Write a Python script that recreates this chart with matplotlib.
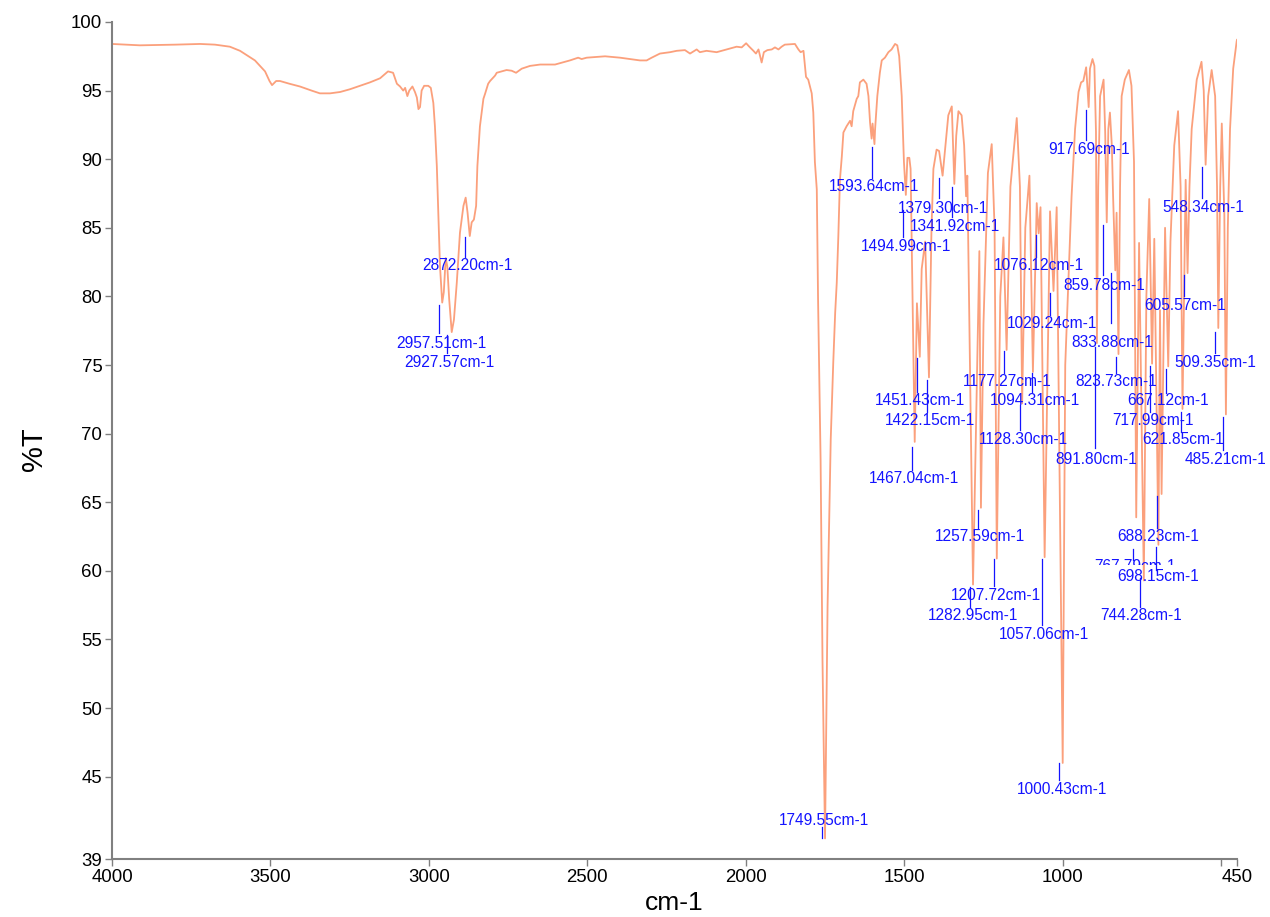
import matplotlib
matplotlib.use("Agg")
import matplotlib.pyplot as plt
from matplotlib.patches import Rectangle

# ---------------- data ----------------
wavenumber = [
    4000, 3912, 3800, 3722, 3675, 3628, 3596, 3549, 3517, 3503, 3495, 3482, 3470, 3440,
    3407, 3370, 3344, 3312, 3280, 3249, 3186, 3154, 3129, 3113, 3101, 3091, 3081, 3075,
    3068, 3062, 3052, 3044, 3038, 3033, 3028, 3023, 3015, 3002, 2994, 2986, 2981, 2975,
    2970, 2965, 2958, 2953, 2947, 2942, 2936, 2928, 2921, 2912, 2902, 2891, 2884, 2878,
    2871, 2865, 2858, 2851, 2847, 2839, 2828, 2823, 2813, 2807, 2791, 2786, 2755, 2739,
    2725, 2707, 2681, 2649, 2602, 2555, 2529, 2518, 2502, 2444, 2397, 2365, 2334, 2313,
    2297, 2271, 2239, 2218, 2192, 2176, 2155, 2145, 2124, 2092, 2060, 2029, 2013, 1999,
    1989, 1976, 1968, 1960, 1950, 1943, 1932, 1918, 1908, 1897, 1887, 1877, 1845, 1834,
    1827, 1818, 1810, 1803, 1792, 1787, 1782, 1776, 1772, 1764, 1758, 1750, 1742, 1732,
    1724, 1718, 1713, 1708, 1703, 1697, 1692, 1682, 1671, 1666, 1661, 1650, 1645, 1640,
    1629, 1619, 1613, 1608, 1603, 1600, 1594, 1592, 1585, 1577, 1571, 1561, 1550, 1540,
    1529, 1522, 1516, 1508, 1501, 1495, 1490, 1484, 1480, 1467, 1460, 1451, 1445, 1434,
    1422, 1414, 1408, 1398, 1390, 1379, 1368, 1361, 1350, 1342, 1336, 1329, 1319, 1311,
    1305, 1301, 1283, 1263, 1258, 1250, 1236, 1224, 1215, 1208, 1197, 1187, 1177, 1165,
    1145, 1135, 1128, 1118, 1105, 1094, 1082, 1076, 1070, 1057, 1040, 1029, 1019, 1000,
    992, 972, 961, 950, 942, 935, 926, 918, 914, 906, 900, 895, 892, 888,
    882, 871, 866, 861, 856, 851, 845, 841, 834, 830, 824, 819, 814, 804,
    791, 783, 775, 768, 759, 744, 736, 727, 718, 711, 698, 693, 688, 677,
    667, 660, 648, 636, 628, 622, 612, 606, 600, 593, 577, 562, 555, 549,
    545, 541, 530, 519, 513, 509, 503, 498, 490, 485, 479, 472, 462, 451,
    450,
]
transmittance = [
    98.4, 98.3, 98.35, 98.4, 98.35, 98.2, 97.9, 97.2, 96.4, 95.7, 95.4, 95.7, 95.7, 95.5,
    95.3, 95.0, 94.8, 94.8, 94.9, 95.1, 95.6, 95.9, 96.4, 96.3, 95.5, 95.3, 95.0, 95.2,
    94.6, 95.0, 95.3, 94.9, 94.5, 93.65, 93.8, 95.0, 95.35, 95.35, 95.2, 94.1, 92.4, 89.5,
    85.9, 82.2, 79.55, 80.3, 82.8, 82.2, 79.8, 77.4, 78.3, 81.0, 84.65, 86.6, 87.2, 86.1,
    84.4, 85.4, 85.6, 86.6, 89.5, 92.4, 94.4, 94.75, 95.5, 95.7, 96.1, 96.3, 96.5, 96.45,
    96.3, 96.6, 96.8, 96.9, 96.9, 97.2, 97.4, 97.3, 97.4, 97.5, 97.4, 97.3, 97.2, 97.2,
    97.4, 97.7, 97.8, 97.9, 97.95, 97.7, 98.0, 97.8, 97.9, 97.8, 98.0, 98.2, 98.15, 98.45,
    98.2, 97.9, 97.7, 98.0, 97.05, 97.8, 97.95, 98.0, 98.15, 98.0, 98.2, 98.35, 98.4, 98.0,
    97.8, 97.9, 96.0, 95.8, 94.8, 93.4, 89.8, 87.8, 79.8, 68.1, 53.5, 40.5, 57.4, 69.6,
    75.2, 78.8, 81.0, 84.4, 88.5, 90.2, 91.95, 92.4, 92.8, 92.4, 93.5, 94.4, 94.6, 95.6,
    95.8, 95.5, 94.6, 92.7, 91.5, 92.6, 91.1, 92.2, 94.6, 96.3, 97.2, 97.4, 97.8, 98.0,
    98.4, 98.3, 97.5, 94.6, 89.8, 87.4, 90.1, 90.1, 89.3, 69.4, 79.5, 75.6, 82.0, 84.0,
    74.1, 85.0, 89.3, 90.7, 90.6, 88.8, 91.5, 93.2, 93.85, 88.2, 91.7, 93.5, 93.2, 91.0,
    87.3, 88.8, 59.0, 83.3, 64.6, 78.0, 89.0, 91.1, 85.0, 60.9, 80.0, 84.3, 76.1, 88.0,
    93.0, 88.0, 72.2, 85.0, 88.8, 74.5, 86.8, 84.6, 86.5, 61.0, 86.2, 80.4, 86.5, 46.0,
    75.0, 87.3, 92.2, 94.9, 95.6, 95.7, 96.7, 93.8, 96.6, 97.3, 96.8, 92.0, 76.6, 88.0,
    94.6, 95.8, 92.0, 85.4, 92.2, 93.4, 91.0, 87.3, 81.9, 86.1, 75.8, 88.0, 94.6, 95.8,
    96.5, 95.35, 89.8, 63.9, 83.9, 59.3, 80.0, 87.1, 75.1, 84.2, 61.9, 79.0, 65.6, 85.0,
    74.9, 84.0, 91.0, 93.5, 88.0, 71.8, 88.5, 81.7, 88.0, 92.2, 95.8, 97.1, 95.0, 89.6,
    92.0, 94.6, 96.5, 94.6, 88.0, 77.7, 88.0, 92.6, 86.0, 71.4, 85.0, 92.2, 96.6, 98.6,
    98.7,
]

# peak labels (wavenumbers printed on the chart)
peak_labels = [
    "2872.20", "2957.51", "2927.57", "1749.55", "1593.64", "1494.99", "1379.30",
    "1341.92", "1076.12", "917.69", "548.34", "859.78", "605.57", "1029.24",
    "833.88", "509.35", "823.73", "1177.27", "1094.31", "1451.43", "667.12",
    "1422.15", "717.99", "621.85", "1128.30", "485.21", "891.80", "1467.04",
    "1257.59", "688.23", "767.79", "698.15", "1207.72", "1282.95", "744.28",
    "1057.06", "1000.43",
]

x_ticks = [4000, 3500, 3000, 2500, 2000, 1500, 1000, 500, 450]
x_tick_labels = ["4000", "3500", "3000", "2500", "2000", "1500", "1000", "", "450"]
y_ticks = [39, 45, 50, 55, 60, 65, 70, 75, 80, 85, 90, 95, 100]
y_tick_labels = [str(v) for v in y_ticks]

# ---------------- label layout: text (x, y), tick x, tick top, tick bottom ----------------
label_layout = [
    (2879.8, 82.24, 2886.1, 84.31, 82.89),
    (2960.2, 76.58, 2968.1, 79.37, 77.31),
    (2936.6, 75.20, 2941.9, 77.19, 75.85),
    (1753.8, 41.84, 1759.5, 41.35, 40.52),
    (1594.8, 88.00, 1602.7, 90.87, 88.61),
    (1495.1, 83.67, 1503.0, 86.30, 84.33),
    (1379.3, 86.44, 1389.4, 88.63, 87.17),
    (1339.8, 85.08, 1350.2, 88.00, 85.81),
    (1074.8, 82.22, 1085.2, 84.48, 82.87),
    (917.6, 90.72, 927.4, 93.59, 91.40),
    (557.2, 86.46, 559.4, 89.45, 87.15),
    (868.1, 80.83, 871.8, 85.20, 81.56),
    (612.5, 79.37, 617.2, 81.56, 80.05),
    (1033.7, 78.04, 1040.0, 80.25, 78.64),
    (844.4, 76.63, 848.5, 81.71, 78.06),
    (517.8, 75.17, 519.4, 77.43, 75.85),
    (832.4, 73.78, 832.7, 75.60, 74.40),
    (1174.8, 73.78, 1185.2, 76.04, 74.40),
    (1087.4, 72.38, 1097.8, 74.40, 73.05),
    (1449.3, 72.38, 1460.7, 75.51, 73.05),
    (666.8, 72.38, 674.0, 74.71, 72.98),
    (1419.7, 70.99, 1429.1, 73.91, 71.60),
    (716.0, 70.99, 724.5, 74.93, 71.60),
    (621.3, 69.58, 626.7, 71.60, 70.14),
    (1124.3, 69.58, 1134.7, 72.08, 70.26),
    (487.8, 68.13, 495.0, 71.23, 68.80),
    (894.0, 68.13, 898.1, 76.33, 68.93),
    (1469.2, 66.74, 1476.5, 69.05, 67.35),
    (1259.4, 62.49, 1266.3, 64.43, 63.10),
    (697.7, 62.49, 701.5, 65.45, 63.10),
    (771.8, 60.30, 777.2, 61.57, 60.79),
    (697.7, 59.62, 706.6, 61.76, 60.06),
    (1209.5, 58.19, 1216.7, 60.84, 58.89),
    (1284.0, 56.78, 1292.5, 58.84, 57.38),
    (752.3, 56.78, 756.0, 59.45, 57.38),
    (1058.3, 55.39, 1066.2, 60.84, 56.05),
    (1002.2, 44.08, 1010.7, 45.99, 44.75),
]
clipped_label = "767.79"
clip_floor = 60.45

# ---------------- style ----------------
FONT = ["Liberation Sans", "DejaVu Sans"]
plt.rcParams["font.family"] = FONT
LINE_COLOR = "#FBA07C"
LABEL_COLOR = "#1414FF"
AXIS_COLOR = "#808080"

fig = plt.figure(figsize=(12.7, 9.17), dpi=100)
ax = fig.add_axes([112 / 1270, 1 - 859 / 917, 1125 / 1270, 837 / 917])

ax.plot(wavenumber, transmittance, color=LINE_COLOR, lw=1.3, solid_joinstyle="round", zorder=2)

ax.set_xlim(4000, 450)
ax.set_ylim(39, 100)

for text, (tx, ty, kx, k1, k2) in zip(peak_labels, label_layout):
    ax.plot([kx, kx], [k1, k2], color=LABEL_COLOR, lw=0.9, zorder=3)
    t = ax.text(tx, ty, f"{text}cm-1", color=LABEL_COLOR, fontsize=11.2,
                ha="center", va="center", zorder=4)
    if text == clipped_label:
        clip_rect = Rectangle((450, clip_floor), 3550, 100 - clip_floor,
                              transform=ax.transData, facecolor="none", edgecolor="none")
        t.set_clip_path(clip_rect)
        t.set_clip_on(True)

for side in ("top", "right"):
    ax.spines[side].set_visible(False)
for side in ("left", "bottom"):
    ax.spines[side].set_color(AXIS_COLOR)
    ax.spines[side].set_linewidth(1.5)

ax.set_xticks(x_ticks)
ax.set_xticklabels(x_tick_labels)
ax.set_yticks(y_ticks)
ax.set_yticklabels(y_tick_labels)
ax.tick_params(axis="both", direction="out", length=5, width=1.0, color=AXIS_COLOR,
               labelsize=13.4, labelcolor="black", pad=2)

ax.set_xlabel("cm-1", fontsize=19)
ax.set_ylabel("%T", fontsize=21)
ax.xaxis.set_label_coords(0.5, -0.038)
ax.yaxis.set_label_coords(-0.057, 0.49)

fig.savefig("out.png", dpi=100)
